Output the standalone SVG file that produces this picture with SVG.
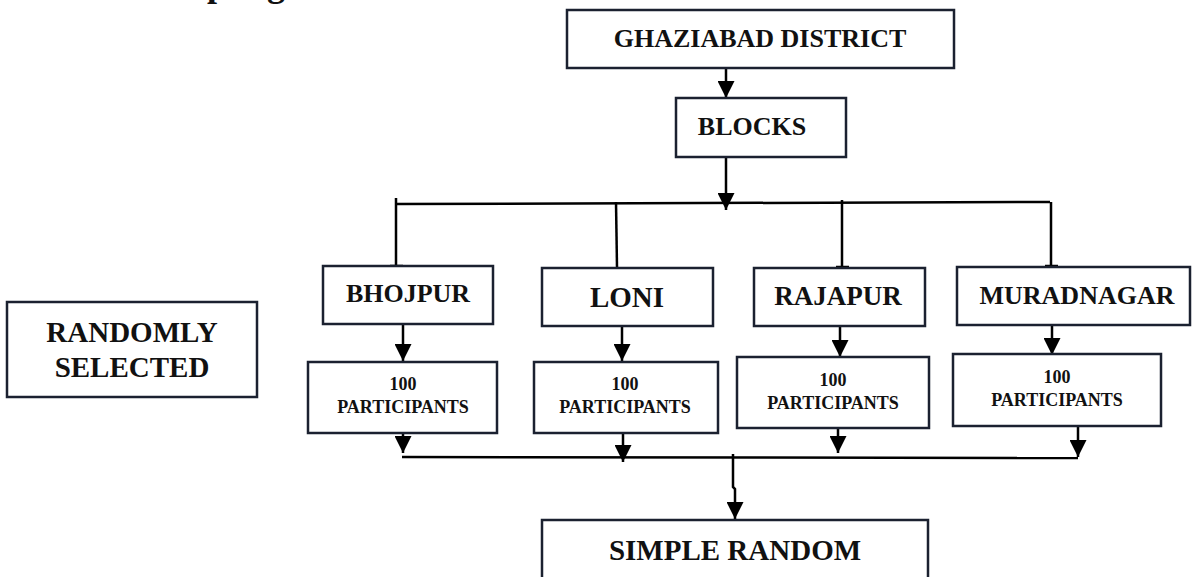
<svg xmlns="http://www.w3.org/2000/svg" width="1192" height="577" viewBox="0 0 1192 577">
<style>
.box{fill:#fff;stroke:#1b2130;stroke-width:2.5}
.t{font-family:"Liberation Serif","Times New Roman",serif;font-weight:bold;fill:#111;text-anchor:middle}
.ln{fill:none;stroke:#000;stroke-width:2.5}
</style>
<defs>
<marker id="ah" viewBox="0 0 16 16" markerWidth="17" markerHeight="17" refX="16" refY="8" orient="auto" markerUnits="userSpaceOnUse">
<path d="M0,0 L16,8 L0,16 z" fill="#000"/>
</marker>
</defs>
<rect width="1192" height="577" fill="#fff"/>
<text class="t" x="139" y="-4" font-size="36" style="text-anchor:start">Sampling</text>

<g id="connectors">
<line class="ln" x1="726" y1="68" x2="726" y2="98" marker-end="url(#ah)"/>
<line class="ln" x1="726" y1="157" x2="726" y2="210" marker-end="url(#ah)"/>
<path class="ln" d="M395,204 L1050,202"/>
<path class="ln" d="M396,198 L396,266 M390,266 L403,266"/>
<path class="ln" d="M616,202 L617,267"/>
<path class="ln" d="M842,200 L842,267 M836,267 L849,267"/>
<path class="ln" d="M1051,202 L1051,266 M1045,266 L1058,266"/>
<line class="ln" x1="403" y1="324" x2="403" y2="361" marker-end="url(#ah)"/>
<line class="ln" x1="622" y1="326" x2="622" y2="361" marker-end="url(#ah)"/>
<line class="ln" x1="840" y1="326" x2="840" y2="357" marker-end="url(#ah)"/>
<line class="ln" x1="1052" y1="325" x2="1052" y2="355" marker-end="url(#ah)"/>
<line class="ln" x1="403" y1="433" x2="403" y2="453" marker-end="url(#ah)"/>
<line class="ln" x1="623" y1="433" x2="623" y2="462" marker-end="url(#ah)"/>
<line class="ln" x1="838" y1="428" x2="838" y2="453" marker-end="url(#ah)"/>
<line class="ln" x1="1078" y1="426" x2="1078" y2="457" marker-end="url(#ah)"/>
<path class="ln" d="M402,457 L1078,458"/>
<path class="ln" d="M733,454 L733,487 L735,489 L735,519" marker-end="url(#ah)"/>
</g>

<g id="ghaziabad">
<rect class="box" x="567" y="10" width="387" height="58"/>
<text class="t" x="760" y="47" font-size="26">GHAZIABAD DISTRICT</text>
</g>
<g id="blocks">
<rect class="box" x="676" y="98" width="170" height="59"/>
<text class="t" x="752" y="135" font-size="26">BLOCKS</text>
</g>
<g id="bhojpur">
<rect class="box" x="323" y="266" width="170" height="58"/>
<text class="t" x="408" y="302" font-size="26">BHOJPUR</text>
</g>
<g id="loni">
<rect class="box" x="542" y="268" width="171" height="58"/>
<text class="t" x="627" y="307" font-size="29">LONI</text>
</g>
<g id="rajapur">
<rect class="box" x="754" y="268" width="171" height="58"/>
<text class="t" x="838" y="305" font-size="27">RAJAPUR</text>
</g>
<g id="muradnagar">
<rect class="box" x="957" y="267" width="233" height="58"/>
<text class="t" x="1077" y="304" font-size="26">MURADNAGAR</text>
</g>
<g id="randomly-selected">
<rect class="box" x="7" y="302" width="250" height="95"/>
<text class="t" x="132" y="342" font-size="29">RANDOMLY</text>
<text class="t" x="132" y="377" font-size="29">SELECTED</text>
</g>
<g id="p1">
<rect class="box" x="308" y="362" width="189" height="71"/>
<text class="t" x="403" y="390" font-size="18">100</text>
<text class="t" x="403" y="413" font-size="18">PARTICIPANTS</text>
</g>
<g id="p2">
<rect class="box" x="534" y="362" width="184" height="71"/>
<text class="t" x="625" y="390" font-size="18">100</text>
<text class="t" x="625" y="413" font-size="18">PARTICIPANTS</text>
</g>
<g id="p3">
<rect class="box" x="737" y="357" width="192" height="71"/>
<text class="t" x="833" y="386" font-size="18">100</text>
<text class="t" x="833" y="409" font-size="18">PARTICIPANTS</text>
</g>
<g id="p4">
<rect class="box" x="953" y="354" width="208" height="72"/>
<text class="t" x="1057" y="383" font-size="18">100</text>
<text class="t" x="1057" y="406" font-size="18">PARTICIPANTS</text>
</g>
<g id="simple-random">
<path class="box" d="M542,590 L542,520 L928,520 L928,590"/>
<text class="t" x="735" y="560" font-size="29">SIMPLE RANDOM</text>
</g>
</svg>
